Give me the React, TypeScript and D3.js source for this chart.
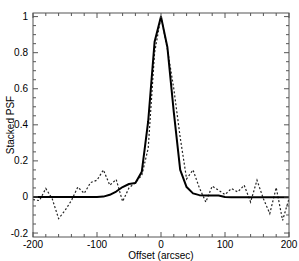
import { useMemo } from 'react'
import * as d3 from 'd3'

const W = 299
const H = 261
const M = { left: 33, right: 10, top: 13, bottom: 24 }

// offsets (arcsec) for the model curve and the stacked data
const modelX = [-200, -190, -180, -170, -160, -150, -140, -130, -120, -110, -100, -90, -80, -70, -60, -50, -40, -30, -20, -10, 0, 10, 20, 30, 40, 50, 60, 70, 80, 90, 100, 110, 120, 130, 140, 150, 160, 170, 180, 190, 200]
const modelY = [0, 0, 0, 0, 0, 0, 0, 0, 0, 0, 0, 0.002, 0.012, 0.03, 0.055, 0.072, 0.077, 0.14, 0.42, 0.86, 1.0, 0.83, 0.47, 0.15, 0.055, 0.02, 0.01, 0.008, 0.008, 0.008, 0, -0.002, -0.002, -0.002, -0.002, -0.002, -0.002, -0.002, -0.002, -0.002, -0.002]

const dataX = [-200, -190, -180, -170, -160, -150, -140, -130, -120, -110, -100, -90, -80, -70, -60, -50, -40, -30, -20, -10, 0, 10, 20, 30, 40, 50, 60, 70, 80, 90, 100, 110, 120, 130, 140, 150, 160, 170, 180, 190, 200]
const dataY = [-0.015, -0.02, 0.047, -0.01, -0.12, -0.075, -0.02, 0.055, 0.02, 0.08, 0.093, 0.15, 0.065, 0.097, -0.025, 0.05, 0.08, 0.12, 0.27, 0.8, 1.0, 0.82, 0.6, 0.33, 0.1, 0.15, 0.05, -0.028, 0.06, 0.037, 0.013, 0.047, 0.028, 0.065, -0.028, 0.093, -0.01, -0.092, 0.052, -0.13, -0.01]

const xMajor = [-200, -100, 0, 100, 200]
const xLabels = ['-200', '-100', '0', '100', '200']
const yMajor = [-0.2, 0, 0.2, 0.4, 0.6, 0.8, 1]
const yLabels = ['-0.2', '0', '0.2', '0.4', '0.6', '0.8', '1']

export default function App() {
  const x = d3.scaleLinear().domain([-200, 200]).range([M.left, W - M.right])
  const y = d3.scaleLinear().domain([-0.222, 1.02]).range([H - M.bottom, M.top])

  const makeLine = d3
    .line<[number, number]>()
    .x((d) => x(d[0]))
    .y((d) => y(d[1]))

  const modelPath = useMemo(() => makeLine(modelX.map((v, i) => [v, modelY[i]])), [])
  const dataPath = useMemo(() => makeLine(dataX.map((v, i) => [v, dataY[i]])), [])

  const xMinor = d3.range(-200, 201, 20)
  const yMinor = d3.range(-0.2, 1.01, 0.05)
  const x0 = M.left
  const x1 = W - M.right
  const y0 = H - M.bottom
  const y1 = M.top
  const axisColor = '#555'

  return (
    <svg
      width={W}
      height={H}
      style={{ position: 'absolute', left: 0, top: 0, background: '#fff' }}
      fontFamily="Liberation Sans, Arial, sans-serif"
      fontSize={10}
    >
      <defs>
        <clipPath id="plot">
          <rect x={x0} y={y1} width={x1 - x0} height={y0 - y1} />
        </clipPath>
      </defs>
      <g clipPath="url(#plot)">
        <path d={dataPath ?? ''} fill="none" stroke="#222" strokeWidth={1.2} strokeDasharray="2,2" />
        <path d={modelPath ?? ''} fill="none" stroke="#000" strokeWidth={2} strokeLinejoin="round" />
      </g>
      <rect x={x0} y={y1} width={x1 - x0} height={y0 - y1} fill="none" stroke={axisColor} strokeWidth={1} />
      {xMinor.map((v) => {
        const l = xMajor.includes(v) ? 5 : 3
        return (
          <g key={'xt' + v} stroke={axisColor} strokeWidth={1}>
            <line x1={x(v)} x2={x(v)} y1={y0} y2={y0 - l} />
            <line x1={x(v)} x2={x(v)} y1={y1} y2={y1 + l} />
          </g>
        )
      })}
      {yMinor.map((v, i) => {
        const l = i % 4 === 0 ? 5 : 3
        return (
          <g key={'yt' + i} stroke={axisColor} strokeWidth={1}>
            <line x1={x0} x2={x0 + l} y1={y(v)} y2={y(v)} />
            <line x1={x1} x2={x1 - l} y1={y(v)} y2={y(v)} />
          </g>
        )
      })}
      {xMajor.map((v, i) => (
        <text key={'xl' + v} x={x(v)} y={y0 + 11} textAnchor="middle" fill="#000">
          {xLabels[i]}
        </text>
      ))}
      {yMajor.map((v, i) => (
        <text key={'yl' + v} x={x0 - 5} y={y(v) + 3.5} textAnchor="end" fill="#000">
          {yLabels[i]}
        </text>
      ))}
      <text x={(x0 + x1) / 2} y={H - 2} textAnchor="middle" fill="#000">
        Offset (arcsec)
      </text>
      <text transform={`translate(14,${(y0 + y1) / 2}) rotate(-90)`} textAnchor="middle" fill="#000">
        Stacked PSF
      </text>
    </svg>
  )
}
